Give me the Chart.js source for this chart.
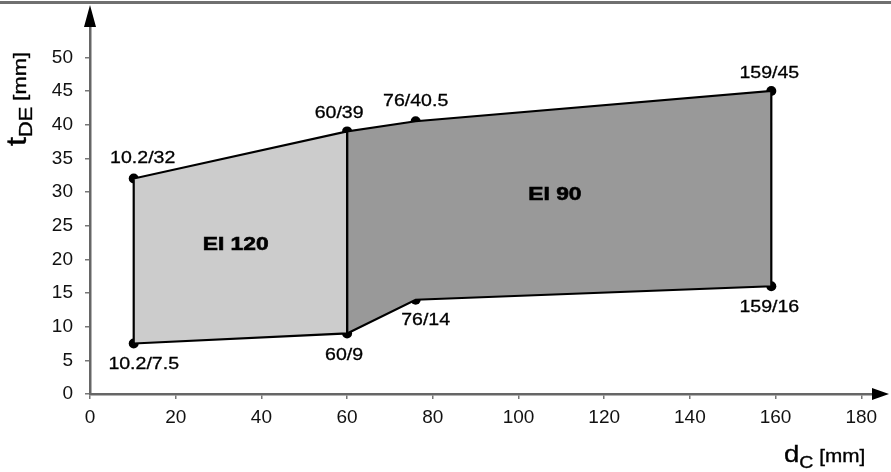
<!DOCTYPE html>
<html>
<head>
<meta charset="utf-8">
<script src="https://cdn.jsdelivr.net/npm/chart.js@4.4.1/dist/chart.umd.min.js"></script>
<style>
html,body{margin:0;padding:0;background:#fff;}
#wrap{position:relative;width:891px;height:472px;overflow:hidden;}
#topline{position:absolute;left:0;top:1px;width:891px;height:3px;background:#707070;}
</style>
</head>
<body>
<div id="wrap"><canvas id="c" width="891" height="472"></canvas><div id="topline"></div></div>
<script>
// ---- data ----
const xTicks = [0, 20, 40, 60, 80, 100, 120, 140, 160, 180];
const yTicks = [0, 5, 10, 15, 20, 25, 30, 35, 40, 45, 50];
const ei120X = [10.2, 10.2, 60, 60, 10.2];
const ei120Y = [7.5, 32, 39, 9, 7.5];
const ei90X = [60, 60, 76, 159, 159, 76, 60];
const ei90Y = [9, 39, 40.5, 45, 16, 14, 9];
const pointX = [10.2, 60, 76, 159, 10.2, 60, 76, 159];
const pointY = [32, 39, 40.5, 45, 7.5, 9, 14, 16];
const regionNames = ['EI 120', 'EI 90'];

// ---- style / placement ----
const labelOffsets = [[9,-20],[-8,-18],[0,-20],[-2,-18],[10,21],[-3,22],[10,21],[-2,21]];
const regionAnchors = [[34, 22.1], [108.5, 29.6]];
const FONT = '"Liberation Sans", Arial, sans-serif';
const TXT = '#000';

const zip = (xs, ys) => xs.map((x, i) => ({x, y: ys[i]}));

function drawRuns(ctx, runs, x0, y0, sx) {
  ctx.save();
  ctx.translate(x0, y0);
  ctx.scale(sx, 1);
  let x = 0;
  for (const r of runs) {
    ctx.font = (r.bold ? 'bold ' : '') + r.size + 'px ' + FONT;
    ctx.fillText(r.text, x, r.dy || 0);
    ctx.lineWidth = 0.35;
    ctx.strokeText(r.text, x, r.dy || 0);
    x += ctx.measureText(r.text).width;
  }
  ctx.restore();
}

const decor = {
  id: 'decor',
  afterDatasetsDraw(chart) {
    const {ctx, chartArea: a, scales: {x, y}} = chart;
    ctx.save();
    // axis arrows
    ctx.fillStyle = '#000';
    ctx.strokeStyle = '#000';
    const x0 = x.getPixelForValue(0), y0 = y.getPixelForValue(0);
    ctx.beginPath();
    ctx.moveTo(x0, a.top - 22); ctx.lineTo(x0 - 6, a.top); ctx.lineTo(x0 + 6, a.top); ctx.closePath(); ctx.fill();
    ctx.beginPath();
    ctx.moveTo(a.right + 17, y0); ctx.lineTo(a.right, y0 - 6); ctx.lineTo(a.right, y0 + 6); ctx.closePath(); ctx.fill();

    // point labels
    ctx.fillStyle = TXT;
    ctx.textAlign = 'center';
    ctx.textBaseline = 'middle';
    pointX.forEach((vx, i) => {
      const px = x.getPixelForValue(vx) + labelOffsets[i][0];
      const py = y.getPixelForValue(pointY[i]) + labelOffsets[i][1];
      ctx.save();
      ctx.translate(px, py);
      ctx.scale(1.15, 1);
      ctx.font = '17px ' + FONT;
      ctx.fillText(vx + '/' + pointY[i], 0, 0);
      ctx.lineWidth = 0.3;
      ctx.strokeText(vx + '/' + pointY[i], 0, 0);
      ctx.restore();
    });
    // region labels
    regionNames.forEach((n, i) => {
      const px = x.getPixelForValue(regionAnchors[i][0]);
      const py = y.getPixelForValue(regionAnchors[i][1]);
      ctx.save();
      ctx.translate(px, py);
      ctx.scale(1.2, 1);
      ctx.font = 'bold 19px ' + FONT;
      ctx.fillText(n, 0, 0);
      ctx.lineWidth = 0.6;
      ctx.strokeText(n, 0, 0);
      ctx.restore();
    });

    // axis titles
    ctx.textAlign = 'left';
    ctx.textBaseline = 'alphabetic';
    drawRuns(ctx, [{text:'d', size:24}, {text:'C', size:17, dy:6}, {text:' [mm]', size:18}], 784, 462, 1.15);
    ctx.save();
    ctx.translate(26, 146);
    ctx.rotate(-Math.PI / 2);
    drawRuns(ctx, [{text:'t', size:28}, {text:'DE', size:19, dy:6}, {text:' [mm]', size:19}], 0, 0, 1.15);
    ctx.restore();
    ctx.restore();
  }
};

new Chart(document.getElementById('c'), {
  type: 'scatter',
  data: {
    datasets: [
      { data: zip(ei120X, ei120Y), showLine: true, fill: 'shape', backgroundColor: '#cccccc',
        borderColor: '#000', borderWidth: 2.2, pointRadius: 0, tension: 0 },
      { data: zip(ei90X, ei90Y), showLine: true, fill: 'shape', backgroundColor: '#999999',
        borderColor: '#000', borderWidth: 2.2, pointRadius: 0, tension: 0 },
      { data: zip(pointX, pointY), showLine: false, pointRadius: 5, pointBackgroundColor: '#000',
        pointBorderColor: '#000', pointBorderWidth: 0 }
    ]
  },
  options: {
    responsive: false,
    animation: false,
    layout: { padding: { top: 27, right: 19, left: 0, bottom: 0 } },
    plugins: { legend: { display: false }, tooltip: { enabled: false } },
    scales: {
      x: {
        type: 'linear', position: 'bottom', min: 0, max: 182.5,
        afterBuildTicks: s => { s.ticks = xTicks.map(v => ({value: v})); },
        afterFit: s => { s.height = 78; },
        grid: { drawOnChartArea: false, drawTicks: true, tickLength: 5, color: '#777', lineWidth: 1.5 },
        border: { display: true, color: '#666', width: 2.5 },
        ticks: { color: '#111', font: { size: 19, family: FONT }, padding: 7, maxRotation: 0, autoSkip: false }
      },
      y: {
        type: 'linear', position: 'left', min: 0, max: 54.5,
        afterBuildTicks: s => { s.ticks = yTicks.map(v => ({value: v})); },
        afterFit: s => { s.width = 90; },
        grid: { drawOnChartArea: false, drawTicks: true, tickLength: 5, color: '#777', lineWidth: 1.5 },
        border: { display: true, color: '#666', width: 2.5 },
        ticks: { color: '#111', font: { size: 19, family: FONT }, padding: 12, autoSkip: false }
      }
    }
  },
  plugins: [decor]
});
</script>
</body>
</html>
